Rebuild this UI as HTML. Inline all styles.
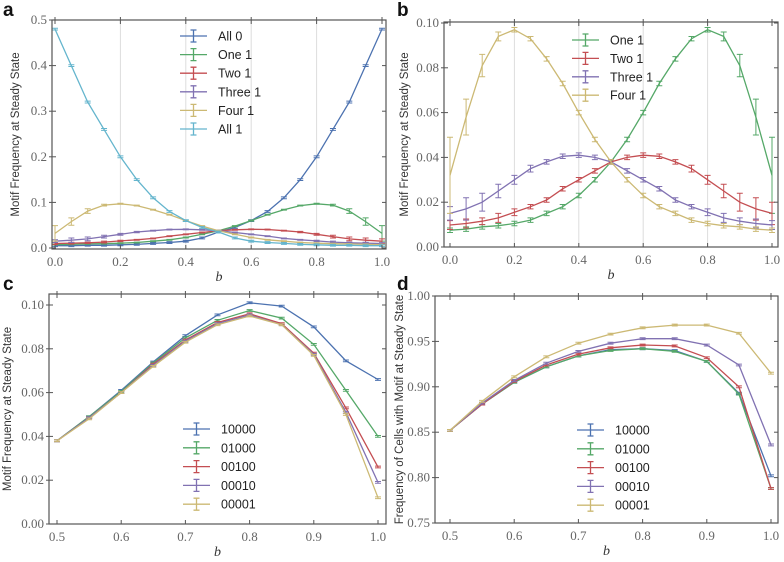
<!DOCTYPE html>
<html><head><meta charset="utf-8"><style>
html,body{margin:0;padding:0;background:#fff;width:784px;height:562px;overflow:hidden}
svg{display:block}
.tk{font-family:"Liberation Serif",serif;font-size:13px;fill:#666}
.lab{font-family:"Liberation Sans",sans-serif;font-size:11.5px;fill:#333}
.leg{font-family:"Liberation Sans",sans-serif;font-size:12.5px;fill:#222}
.pl{font-family:"Liberation Sans",sans-serif;font-size:19px;font-weight:bold;fill:#111}
.bl{font-family:"Liberation Serif",serif;font-size:14px;font-style:italic;fill:#333}
</style></head><body>
<svg id="fig" width="784" height="562" viewBox="0 0 784 562" xmlns="http://www.w3.org/2000/svg"></svg>
<script>
const xsAB = [0,0.05,0.1,0.15,0.2,0.25,0.3,0.35,0.4,0.45,0.5,0.55,0.6,0.65,0.7,0.75,0.8,0.85,0.9,0.95,1.0];
const four1 = [0.032,0.058,0.081,0.094,0.097,0.093,0.084,0.073,0.060,0.048,0.038,0.030,0.023,0.018,0.015,0.012,0.0105,0.0095,0.009,0.008,0.0075];
const four1Err = [0.017,0.008,0.005,0.002,0.001,0.001,0.001,0.001,0.001,0.001,0.001,0.001,0.001,0.001,0.001,0.001,0.001,0.001,0.001,0.001,0.001];
const one1 = [0.0075,0.008,0.009,0.0095,0.0105,0.012,0.015,0.018,0.023,0.030,0.038,0.048,0.060,0.073,0.084,0.093,0.097,0.094,0.081,0.058,0.032];
const one1Err = [0.001,0.001,0.001,0.001,0.001,0.001,0.001,0.001,0.001,0.001,0.001,0.001,0.001,0.001,0.001,0.001,0.001,0.002,0.005,0.008,0.017];
const three1 = [0.015,0.017,0.020,0.025,0.030,0.035,0.038,0.0405,0.041,0.040,0.038,0.034,0.030,0.026,0.021,0.018,0.0155,0.013,0.0115,0.0105,0.0098];
const three1Err = [0.003,0.005,0.004,0.003,0.002,0.0015,0.001,0.001,0.001,0.001,0.001,0.001,0.001,0.001,0.001,0.001,0.0015,0.002,0.0015,0.002,0.002];
const two1 = [0.0098,0.0105,0.0115,0.013,0.0155,0.018,0.021,0.026,0.030,0.034,0.038,0.040,0.041,0.0405,0.038,0.035,0.030,0.025,0.020,0.017,0.015];
const two1Err = [0.002,0.002,0.0015,0.002,0.0015,0.001,0.001,0.001,0.001,0.001,0.001,0.001,0.001,0.001,0.001,0.0015,0.002,0.003,0.004,0.005,0.005];
const all0 = [0.005,0.005,0.006,0.006,0.007,0.008,0.010,0.012,0.015,0.022,0.035,0.045,0.060,0.080,0.110,0.150,0.200,0.260,0.320,0.400,0.480];
const all1 = [0.480,0.400,0.320,0.260,0.200,0.150,0.110,0.080,0.060,0.045,0.035,0.022,0.015,0.012,0.010,0.008,0.007,0.006,0.006,0.005,0.005];
const xsCD = [0.5,0.55,0.6,0.65,0.7,0.75,0.8,0.85,0.9,0.95,1.0];
const c10000 = [0.038,0.049,0.061,0.074,0.086,0.0955,0.101,0.0995,0.090,0.0745,0.066];
const c01000 = [0.038,0.049,0.0605,0.0735,0.085,0.093,0.0975,0.094,0.082,0.061,0.040];
const c00100 = [0.038,0.0485,0.060,0.073,0.084,0.092,0.096,0.0915,0.078,0.053,0.026];
const c00010 = [0.038,0.0485,0.060,0.0725,0.0835,0.0915,0.0955,0.091,0.0775,0.051,0.019];
const c00001 = [0.038,0.048,0.060,0.072,0.083,0.091,0.095,0.091,0.077,0.050,0.012];
const d10000 = [0.852,0.881,0.905,0.922,0.934,0.941,0.942,0.940,0.928,0.893,0.802];
const d01000 = [0.852,0.881,0.905,0.922,0.934,0.940,0.942,0.939,0.928,0.892,0.788];
const d00100 = [0.852,0.881,0.906,0.924,0.936,0.943,0.946,0.945,0.932,0.900,0.788];
const d00010 = [0.852,0.882,0.907,0.926,0.939,0.948,0.953,0.953,0.946,0.924,0.836];
const d00001 = [0.852,0.884,0.911,0.933,0.948,0.958,0.965,0.968,0.968,0.959,0.915];
const xTicksAB = ["0.0","0.2","0.4","0.6","0.8","1.0"];
const yTicksA = ["0.0","0.1","0.2","0.3","0.4","0.5"];
const yTicksB = ["0.00","0.02","0.04","0.06","0.08","0.10"];
const xTicksCD = ["0.5","0.6","0.7","0.8","0.9","1.0"];
const yTicksC = ["0.00","0.02","0.04","0.06","0.08","0.10"];
const yTicksD = ["0.75","0.80","0.85","0.90","0.95","1.00"];

const C = {blue:"#4C72B0",green:"#55A868",red:"#C44E52",purple:"#8172B2",yellow:"#CCB974",cyan:"#64B5CD"};
const NS = "http://www.w3.org/2000/svg";
const fig = document.getElementById('fig');
function mk(tag, attrs, parent, text){
  const e = document.createElementNS(NS, tag);
  for (const k in attrs) e.setAttribute(k, attrs[k]);
  if (text !== undefined) e.textContent = text;
  (parent||fig).appendChild(e);
  return e;
}

function panel(p){
  const g = mk('g', {});
  
  
  const X = v => p.px0 + (v - p.x0) / (p.x1 - p.x0) * (p.px1 - p.px0);
  const Y = v => p.py0 + (v - p.y0) / (p.y1 - p.y0) * (p.py1 - p.py0);
  if (p.grid) p.grid.forEach(v => {
    const l = mk('line', {x1:X(v),x2:X(v),y1:p.fy0,y2:p.fy1,stroke:'#ddd','stroke-width':1}, g);
    
    
  });
  p.series.forEach(s => {
    const sg = mk('g', {}, g);
    
    
    const pts = p.xs.map((x,i) => X(x).toFixed(1) + ',' + Y(s.v[i]).toFixed(1)).join(' ');
    mk('polyline', {points:pts, fill:'none', stroke:s.c, 'stroke-width':1.3}, sg);
    p.xs.forEach((x,i) => {
      const e = s.e ? s.e[i] : p.defErr;
      const cx = X(x), ya = Y(s.v[i]-e), yb = Y(s.v[i]+e);
      const b = mk('path', {d:`M${cx},${ya}V${yb}M${cx-3},${ya}H${cx+3}M${cx-3},${yb}H${cx+3}`, stroke:s.c, 'stroke-width':1, fill:'none'}, sg);
      
      
    });
  });
  const fr = mk('rect', {x:p.fx0,y:p.fy0,width:p.fx1-p.fx0,height:p.fy1-p.fy0,fill:'none',stroke:'#555','stroke-width':1.2}, g);
  
  
  p.xt.forEach(t => {
    const x = X(parseFloat(t));
    mk('line', {x1:x,x2:x,y1:p.fy1,y2:p.fy1-4,stroke:'#555'}, g);
    mk('line', {x1:x,x2:x,y1:p.fy0,y2:p.fy0+4,stroke:'#555'}, g);
    mk('line', {x1:x,x2:x,y1:p.fy0,y2:p.fy0-3,stroke:'#555'}, g);
    const tx = mk('text', {x:x,y:p.fy1+17,'text-anchor':'middle',class:'tk'}, g, t);
    
    
  });
  p.yt.forEach(t => {
    const y = Y(parseFloat(t));
    mk('line', {x1:p.fx0,x2:p.fx0+4,y1:y,y2:y,stroke:'#555'}, g);
    mk('line', {x1:p.fx0,x2:p.fx0-3,y1:y,y2:y,stroke:'#555'}, g);
    mk('line', {x1:p.fx1,x2:p.fx1-4,y1:y,y2:y,stroke:'#555'}, g);
    const ty = mk('text', {x:p.fx0-5,y:y+4,'text-anchor':'end',class:'tk'}, g, t);
    
    
  });
  const xl = mk('text', {x:(p.fx0+p.fx1)/2, y:p.fy1+32, 'text-anchor':'middle', class:'bl'}, g, 'b');
  
  
  const yl = mk('text', {x:0,y:0,'text-anchor':'middle',class:'lab',transform:`translate(${p.ylx},${(p.fy0+p.fy1)/2}) rotate(-90)`}, g, p.ylabel);
  
  
  const pl = mk('text', {x:p.plx,y:p.ply,class:'pl'}, g, p.letter);
  
  
  const lg = mk('g', {}, g);
  
  
  p.series.forEach((s,i) => {
    const y = p.ly + i*p.lstep;
    const le = mk('g', {}, lg);
    
    
    mk('path', {d:`M${p.lx},${y}H${p.lx+27}M${p.lx+13.5},${y-6}V${y+6}M${p.lx+10.5},${y-6}H${p.lx+16.5}M${p.lx+10.5},${y+6}H${p.lx+16.5}`, stroke:s.c,'stroke-width':1.3,fill:'none'}, le);
    mk('text', {x:p.lx+38,y:y+4.5,class:'leg'}, le, s.label);
  });
}

panel({name:'panel-a',letter:'a',plx:3,ply:16,xs:xsAB,x0:0,x1:1,px0:55,px1:382,y0:0,y1:0.5,py0:248,py1:20,
  fx0:52,fx1:386,fy0:20,fy1:249,grid:[0.2,0.4,0.6,0.8],xt:xTicksAB,yt:yTicksA,ylx:19,defErr:0.002,
  ylabel:'Motif Frequency at Steady State',lx:180,ly:36,lstep:18.6,
  series:[{label:'All 0',c:C.blue,v:all0},{label:'One 1',c:C.green,v:one1,e:one1Err},{label:'Two 1',c:C.red,v:two1,e:two1Err},
          {label:'Three 1',c:C.purple,v:three1,e:three1Err},{label:'Four 1',c:C.yellow,v:four1,e:four1Err},{label:'All 1',c:C.cyan,v:all1}]});
panel({name:'panel-b',letter:'b',plx:397,ply:16,xs:xsAB,x0:0,x1:1,px0:450,px1:772,y0:0,y1:0.1,py0:247,py1:23,
  fx0:444,fx1:778,fy0:22,fy1:247,grid:[0.2,0.4,0.6,0.8],xt:xTicksAB,yt:yTicksB,ylx:408,defErr:0.001,
  ylabel:'Motif Frequency at Steady State',lx:572,ly:40,lstep:18.4,
  series:[{label:'One 1',c:C.green,v:one1,e:one1Err},{label:'Two 1',c:C.red,v:two1,e:two1Err},
          {label:'Three 1',c:C.purple,v:three1,e:three1Err},{label:'Four 1',c:C.yellow,v:four1,e:four1Err}]});
panel({name:'panel-c',letter:'c',plx:3,ply:290,xs:xsCD,x0:0.5,x1:1,px0:57,px1:378,y0:0,y1:0.1,py0:524,py1:305,
  fx0:49,fx1:386,fy0:294,fy1:524,xt:xTicksCD,yt:yTicksC,ylx:11,defErr:0.0004,
  ylabel:'Motif Frequency at Steady State',lx:183,ly:429,lstep:18.8,
  series:[{label:'10000',c:C.blue,v:c10000},{label:'01000',c:C.green,v:c01000},{label:'00100',c:C.red,v:c00100},
          {label:'00010',c:C.purple,v:c00010},{label:'00001',c:C.yellow,v:c00001}]});
panel({name:'panel-d',letter:'d',plx:397,ply:290,xs:xsCD,x0:0.5,x1:1,px0:450,px1:771,y0:0.75,y1:1.0,py0:523,py1:296,
  fx0:435,fx1:778,fy0:296,fy1:523,xt:xTicksCD,yt:yTicksD,ylx:403,defErr:0.001,
  ylabel:'Frequency of Cells with Motif at Steady State',lx:577,ly:430,lstep:18.8,
  series:[{label:'10000',c:C.blue,v:d10000},{label:'01000',c:C.green,v:d01000},{label:'00100',c:C.red,v:d00100},
          {label:'00010',c:C.purple,v:d00010},{label:'00001',c:C.yellow,v:d00001}]});
</script>
</body></html>
